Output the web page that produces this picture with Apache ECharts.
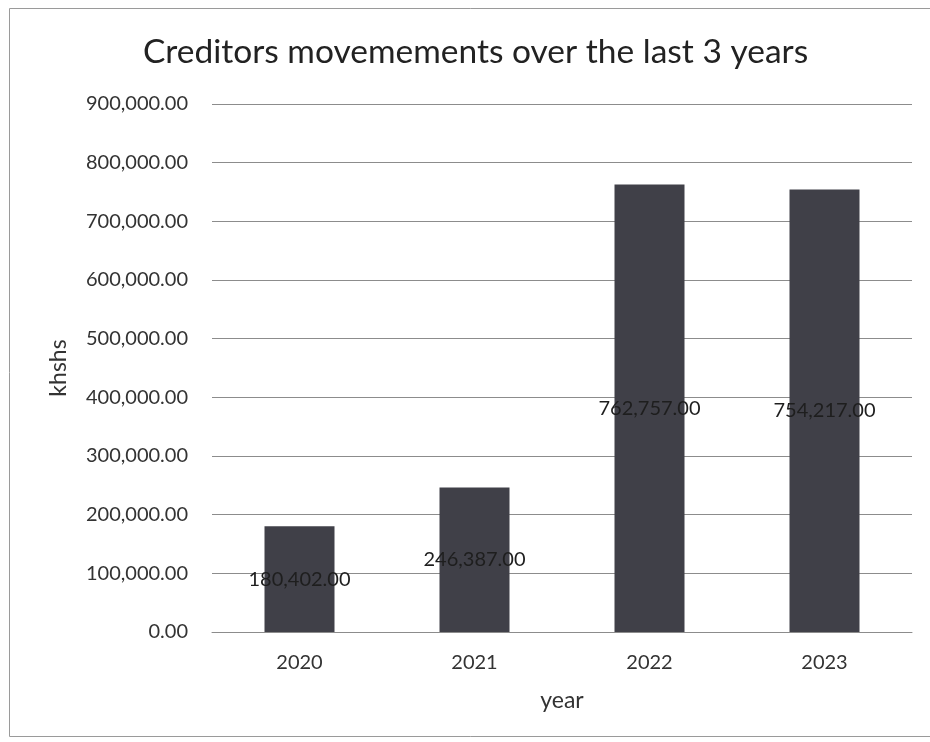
<!DOCTYPE html>
<html>
<head>
<meta charset="utf-8">
<script src="https://cdn.jsdelivr.net/npm/echarts@6/dist/echarts.min.js"></script>
<style>
  html, body { margin: 0; padding: 0; background: #fff; }
  #chart { width: 930px; height: 742px; }
</style>
</head>
<body>
<div id="chart"></div>
<script>
// Creditors balance per year, in Kenyan shillings (thousands)
const years = ['2020', '2021', '2022', '2023'];
const creditors = [180402, 246387, 762757, 754217];
const yTicks = { min: 0, max: 900000, interval: 100000 };

function money(v) {
  return Number(v).toLocaleString('en-US', { minimumFractionDigits: 2, maximumFractionDigits: 2 });
}

const chart = echarts.init(document.getElementById('chart'));
const font = 'Lato, "Open Sans", "Liberation Sans", sans-serif';

chart.setOption({
  backgroundColor: '#ffffff',
  animation: false,
  title: {
    text: 'Creditors movemements over the last 3 years',
    left: 143,
    top: 35,
    padding: 0,
    textStyle: { fontFamily: font, fontSize: 33.5, fontWeight: 'normal', color: '#222222' }
  },
  graphic: [{
    type: 'rect',
    shape: { x: 9.5, y: 8.5, width: 930, height: 728 },
    style: { fill: 'none', stroke: '#9a9a9a', lineWidth: 1 },
    silent: true
  }],
  grid: { left: 212, right: 18, top: 104, bottom: 110 },
  xAxis: {
    type: 'category',
    data: years,
    name: 'year',
    nameLocation: 'middle',
    nameGap: 57,
    nameMoveOverlap: false,
    nameTextStyle: { fontFamily: font, fontSize: 23, color: '#333' },
    axisLine: { show: true, lineStyle: { color: '#8c8c8c', width: 1 } },
    axisTick: { show: false },
    axisLabel: { fontFamily: font, fontSize: 20, color: '#333', margin: 21 }
  },
  yAxis: {
    type: 'value',
    min: yTicks.min,
    max: yTicks.max,
    interval: yTicks.interval,
    name: 'khshs',
    nameLocation: 'middle',
    nameGap: 142,
    nameMoveOverlap: false,
    nameTextStyle: { fontFamily: font, fontSize: 23, color: '#333' },
    axisLine: { show: false },
    axisTick: { show: false },
    axisLabel: { fontFamily: font, fontSize: 20, color: '#333', margin: 24, formatter: money },
    splitLine: { lineStyle: { color: '#8c8c8c', width: 1 } }
  },
  series: [{
    type: 'bar',
    data: creditors,
    barWidth: 70,
    itemStyle: { color: '#404048' },
    label: {
      show: true,
      position: 'inside',
      fontFamily: font,
      fontSize: 20,
      color: '#1e1e1e',
      formatter: p => money(p.value)
    }
  }]
});
</script>
</body>
</html>
